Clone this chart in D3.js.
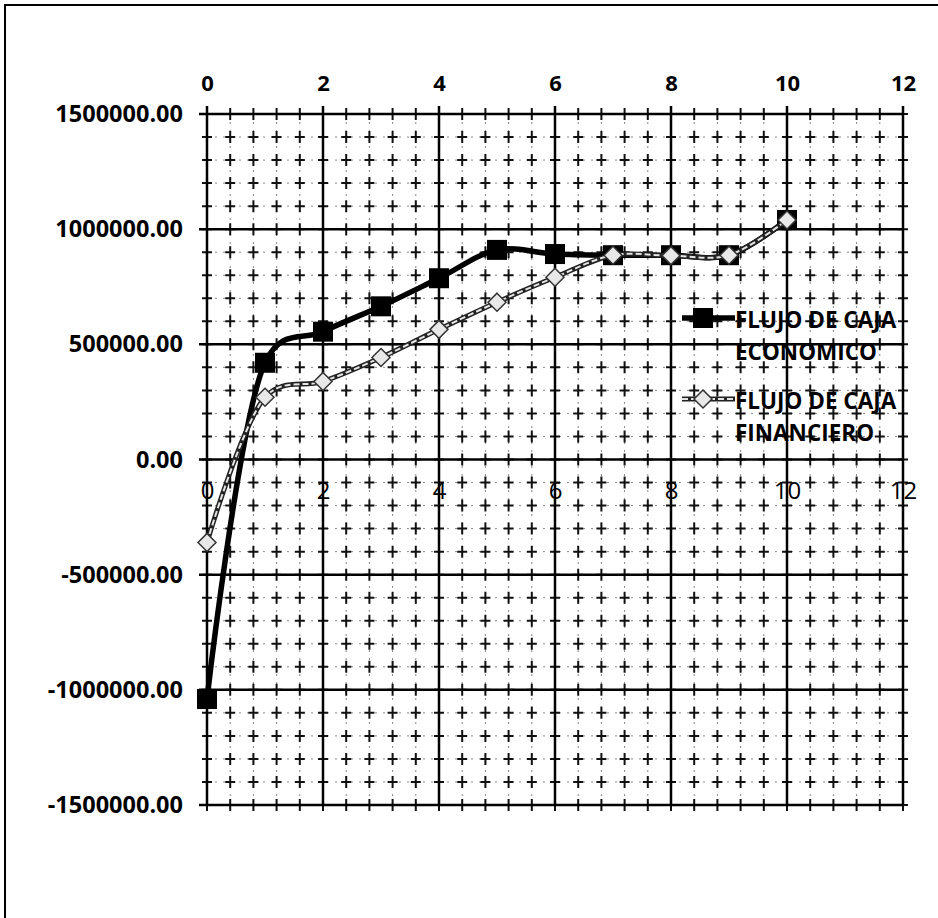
<!DOCTYPE html>
<html>
<head>
<meta charset="utf-8">
<script src="https://cdn.jsdelivr.net/npm/d3@7"></script>
<style>
  body { margin: 0; background: #fff; }
  svg text { font-family: "Open Sans", sans-serif; }
</style>
</head>
<body>
<div id="chart"></div>
<script>
// periods (years) and the two cash flow series
var periodos = [0, 1, 2, 3, 4, 5, 6, 7, 8, 9, 10];
var economico = [-1040000, 420000, 555000, 665000, 787000, 910000, 892000, 887000, 887000, 887000, 1040000];
var financiero = [-360000, 270000, 339000, 443000, 565000, 683000, 791000, 887000, 885000, 887000, 1040000];
var xTicks = [0, 2, 4, 6, 8, 10, 12];
var yTicks = [-1500000, -1000000, -500000, 0, 500000, 1000000, 1500000];
var leyenda = [["FLUJO DE CAJA", "ECONOMICO"], ["FLUJO DE CAJA", "FINANCIERO"]];

var width = 938;
var height = 918;

var svg = d3
  .select("#chart")
  .append("svg")
  .attr("width", width)
  .attr("height", height);

// outer frame (only top and left visible in the scan)
svg.append("path")
  .attr("d", "M5,918V5H938")
  .attr("fill", "none")
  .attr("stroke", "black")
  .attr("stroke-width", 2);

var x = d3.scaleLinear().domain([0, 12]).range([207, 903]);
var y = d3.scaleLinear().domain([-1500000, 1500000]).range([805, 114]);

// minor grid: every 0.4 on x, every 100000 on y
var minorX = d3.range(0, 12.001, 0.4);
var minorY = d3.range(-1500000, 1500001, 100000);

var grid = svg.append("g");
grid.selectAll(".mx")
  .data(minorX)
  .enter()
  .append("line")
  .attr("class", "mx")
  .attr("x1", function(d) { return x(d); })
  .attr("x2", function(d) { return x(d); })
  .attr("y1", y(1500000))
  .attr("y2", y(-1500000))
  .attr("stroke", "#888")
  .attr("stroke-width", 1)
  .attr("stroke-dasharray", "2,6");
grid.selectAll(".my")
  .data(minorY)
  .enter()
  .append("line")
  .attr("class", "my")
  .attr("x1", x(0))
  .attr("x2", x(12))
  .attr("y1", function(d) { return y(d); })
  .attr("y2", function(d) { return y(d); })
  .attr("stroke", "#888")
  .attr("stroke-width", 1)
  .attr("stroke-dasharray", "2,6");

// little crosses at each minor intersection
var cruces = [];
minorX.forEach(function(a) {
  minorY.forEach(function(b) { cruces.push([a, b]); });
});
grid.selectAll(".cross")
  .data(cruces)
  .enter()
  .append("path")
  .attr("class", "cross")
  .attr("d", function(d) {
    var cx = x(d[0]), cy = y(d[1]);
    return "M" + (cx - 5) + "," + cy + "H" + (cx + 5) + "M" + cx + "," + (cy - 6) + "V" + (cy + 6);
  })
  .attr("stroke", "#111")
  .attr("stroke-width", 2);

// major grid
grid.selectAll(".gx")
  .data(xTicks)
  .enter()
  .append("line")
  .attr("x1", function(d) { return x(d); })
  .attr("x2", function(d) { return x(d); })
  .attr("y1", y(1500000) - 8)
  .attr("y2", y(-1500000))
  .attr("stroke", "black")
  .attr("stroke-width", 2.5);
grid.selectAll(".gy")
  .data(yTicks)
  .enter()
  .append("line")
  .attr("x1", x(0) - 8)
  .attr("x2", x(12))
  .attr("y1", function(d) { return y(d); })
  .attr("y2", function(d) { return y(d); })
  .attr("stroke", "black")
  .attr("stroke-width", 2.5);

// top axis labels
var topAxis = d3.axisTop(x).tickValues(xTicks).tickSize(0).tickPadding(23);
var gTop = svg.append("g").attr("transform", "translate(0," + y(1500000) + ")").call(topAxis);
gTop.select(".domain").remove();
gTop.selectAll("text")
  .style("font-family", "Open Sans")
  .attr("font-size", "22px")
  .attr("font-weight", "bold")
  .attr("fill", "black");

// left axis labels (plain hyphen for negatives, as in the original)
var fmt = d3.format(".2f");
var leftAxis = d3.axisLeft(y).tickValues(yTicks).tickSize(0).tickPadding(24)
  .tickFormat(function(d) { return fmt(d).replace("\u2212", "-"); });
var gLeft = svg.append("g").attr("transform", "translate(" + x(0) + ",0)").call(leftAxis);
gLeft.select(".domain").remove();
gLeft.selectAll("text")
  .style("font-family", "Open Sans")
  .attr("font-size", "23.5px")
  .attr("font-weight", "bold")
  .attr("fill", "black");

// labels sitting on the zero line
var midAxis = d3.axisBottom(x).tickValues(xTicks).tickSize(0).tickPadding(22);
var gMid = svg.append("g").attr("transform", "translate(0," + y(0) + ")").call(midAxis);
gMid.select(".domain").remove();
gMid.selectAll("text")
  .style("font-family", "Open Sans")
  .attr("font-size", "24px")
  .attr("fill", "black");

// series
var curva = d3.curveCatmullRom.alpha(0.25);
var line1 = d3.line()
  .x(function(d, i) { return x(periodos[i]); })
  .y(function(d) { return y(d); })
  .curve(curva);

svg.append("path")
  .datum(economico)
  .attr("d", line1)
  .attr("fill", "none")
  .attr("stroke", "black")
  .attr("stroke-width", 5.5);

svg.selectAll(".sq")
  .data(economico)
  .enter()
  .append("rect")
  .attr("class", "sq")
  .attr("x", function(d, i) { return x(periodos[i]) - 10; })
  .attr("y", function(d) { return y(d) - 10; })
  .attr("width", 20)
  .attr("height", 20)
  .attr("fill", "black");

svg.append("path")
  .datum(financiero)
  .attr("d", line1)
  .attr("fill", "none")
  .attr("stroke", "#222")
  .attr("stroke-width", 5);
svg.append("path")
  .datum(financiero)
  .attr("d", line1)
  .attr("fill", "none")
  .attr("stroke", "#e4e4e4")
  .attr("stroke-width", 2)
  .attr("stroke-dasharray", "6,3");

var diamond = function(cx, cy, r) {
  return "M" + cx + "," + (cy - r) + "L" + (cx + r) + "," + cy + "L" + cx + "," + (cy + r) + "L" + (cx - r) + "," + cy + "Z";
};
svg.selectAll(".dm")
  .data(financiero)
  .enter()
  .append("path")
  .attr("class", "dm")
  .attr("d", function(d, i) { return diamond(x(periodos[i]), y(d), 9); })
  .attr("fill", "#e8e8e8")
  .attr("stroke", "#333")
  .attr("stroke-width", 1.5);

// legend
var legY = [318, 399];
var leg = svg.append("g");
leg.append("line")
  .attr("x1", 682).attr("x2", 735)
  .attr("y1", legY[0]).attr("y2", legY[0])
  .attr("stroke", "black").attr("stroke-width", 5.5);
leg.append("rect")
  .attr("x", 693).attr("y", legY[0] - 10)
  .attr("width", 20).attr("height", 20)
  .attr("fill", "black");
leg.append("line")
  .attr("x1", 682).attr("x2", 735)
  .attr("y1", legY[1]).attr("y2", legY[1])
  .attr("stroke", "#222").attr("stroke-width", 5);
leg.append("line")
  .attr("x1", 682).attr("x2", 735)
  .attr("y1", legY[1]).attr("y2", legY[1])
  .attr("stroke", "#e4e4e4").attr("stroke-width", 2)
  .attr("stroke-dasharray", "6,3");
leg.append("path")
  .attr("d", diamond(703, legY[1], 9))
  .attr("fill", "#e8e8e8")
  .attr("stroke", "#333")
  .attr("stroke-width", 1.5);

leyenda.forEach(function(lines, k) {
  lines.forEach(function(t, j) {
    leg.append("text")
      .attr("x", 735)
      .attr("y", legY[k] + 2 + j * 32)
      .attr("dy", "0.35em")
      .attr("font-size", "22.5px")
      .attr("font-weight", "bold")
      .attr("fill", "black")
      .text(t);
  });
});
</script>
</body>
</html>
